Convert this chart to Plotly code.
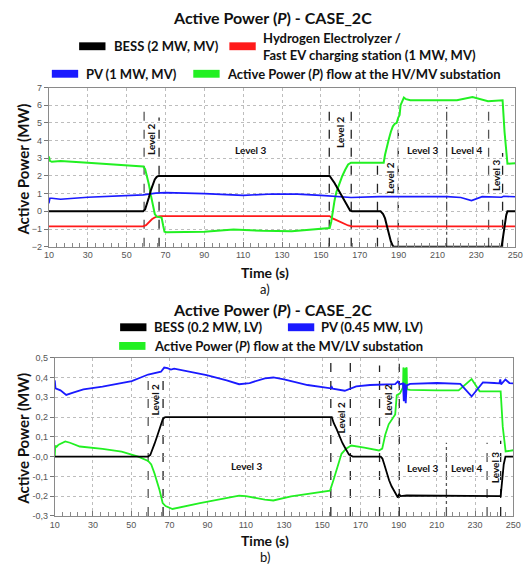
import plotly.graph_objects as go

W, H = 532, 571

# ---------------- Panel a) : MV network ----------------
t_bess_a = [10, 58.5, 59.5, 60.5, 61.5, 62.5, 63.5, 64.5, 65.5, 66.5, 67.5, 154.5, 157, 159, 161,
            163, 165, 166, 180.7, 182, 183, 184, 185, 186, 187, 187.5, 243, 243.8, 244.6, 245.4, 246, 250]
p_bess_a = [0, 0, 0.1, 0.4, 0.8, 1.2, 1.55, 1.8, 1.95, 2.0, 2.0, 2.0, 1.6, 1.2, 0.8,
            0.4, 0.05, 0, 0, -0.15, -0.4, -0.85, -1.3, -1.7, -1.95, -2.0, -2.0, -1.5, -0.8, -0.2, 0, 0]

t_h2_a = [10, 58.5, 60, 61, 62, 63, 64, 65, 66.5, 67.5, 154.5, 156, 158, 160, 162, 164, 166, 250]
p_h2_a = [-0.85, -0.85, -0.78, -0.65, -0.55, -0.45, -0.38, -0.32, -0.28, -0.27, -0.27, -0.4, -0.5,
          -0.6, -0.72, -0.8, -0.85, -0.85]

t_pv_a = [10, 10.5, 11.5, 16, 30, 45, 58.5, 65, 70, 90, 105, 110, 125, 138, 150, 160, 165.5, 180,
          190, 215, 222, 227.5, 233, 243, 244, 250]
p_pv_a = [0.45, 0.74, 0.74, 0.68, 0.8, 0.88, 0.93, 1.03, 1.06, 1.0, 0.93, 0.9, 0.98, 0.97, 0.9,
          0.83, 0.78, 0.83, 0.83, 0.83, 0.78, 0.61, 0.83, 0.8, 0.85, 0.82]

t_grid_a = [10, 10.5, 11.5, 16, 30, 45, 58.5, 59.5, 60.5, 61.5, 62.5, 63.5, 64.5, 65.5, 66.5, 68,
            68.8, 69.5, 70.5, 90, 105, 120, 135, 150, 154.5, 155.3, 156, 157, 158, 159.5, 161, 162.5,
            164, 165.5, 182.3, 183, 184, 185, 186, 187, 188, 189, 189.8, 190.2, 190.5, 191, 191.5,
            192.7, 193.8, 196, 220, 228, 236, 243.5, 244.5, 246, 250]
p_grid_a = [3.1, 2.85, 2.8, 2.85, 2.75, 2.65, 2.54, 2.4, 2.0, 1.5, 0.9, 0.3, -0.15, -0.3, -0.33,
            -0.35, -0.8, -1.15, -1.18, -1.15, -1.03, -1.1, -1.12, -1.0, -0.95, -0.6, 0.0, 0.6, 1.1,
            1.6, 2.0, 2.35, 2.65, 2.75, 2.75, 3.2, 3.7, 4.1, 4.5, 4.8, 4.95, 5.0, 5.3, 5.4, 5.45, 6.0,
            6.15, 6.43, 6.34, 6.28, 6.28, 6.46, 6.23, 6.28, 4.5, 2.69, 2.72]

# phase boundaries: x position, upper end of the line, dash style
vl_x_a = [59.0, 66.7, 154.3, 165.6, 179.1, 189.8, 214.7, 236.3, 243.5]
vl_top_a = [5.8, 5.3, 5.8, 5.7, 2.65, 4.9, 5.9, 5.9, 3.3]
vl_dash_a = ["dash", "dash", "dash", "dash", "dash", "dash", "dashdot", "dash", "dash"]

lvl_txt_a = ["Level 2", "Level 3", "Level 2", "Level 2", "Level 3", "Level 4", "Level 3"]
lvl_x_a = [62.9, 114, 159.9, 185.6, 202.3, 225.1, 240.1]
lvl_y_a = [4.07, 3.45, 4.5, 1.9, 3.45, 3.45, 2.05]
lvl_rot_a = [True, False, True, True, False, False, True]

# ---------------- Panel b) : LV network ----------------
t_bess_b = [10, 58.9, 60, 61, 62.2, 63.5, 64.8, 65.7, 66.5, 67.3, 68.1, 155, 156, 157.6, 159, 160.5,
            161.8, 163, 164, 165.2, 166, 180.6, 181.5, 182.5, 183.9, 185, 186.3, 187.4, 188.3, 189.1,
            189.6, 190.2, 191, 194.2, 243.4, 244.2, 245, 245.9, 250]
p_bess_b = [0, 0, 0.008, 0.03, 0.064, 0.1, 0.138, 0.17, 0.188, 0.197, 0.2, 0.2, 0.17, 0.138, 0.1,
            0.07, 0.047, 0.025, 0.01, 0.004, 0, 0, -0.01, -0.04, -0.086, -0.12, -0.15, -0.168, -0.19,
            -0.201, -0.207, -0.19, -0.2, -0.197, -0.2, -0.12, -0.04, 0.0, 0.0]

t_pv_b = [10, 10.4, 13, 16, 20, 25, 35, 45, 50.3, 55, 58.9, 65.6, 67.3, 69, 70.8, 72.5, 80, 89.5, 100,
          106.5, 112, 120, 124.4, 130, 142.3, 150, 154.5, 155, 155.5, 161.8, 167.8, 175, 188.2, 189.6,
          190.5, 192.3, 192.7, 193.2, 193.7, 194.2, 196, 210, 222.3, 228.2, 234.1, 240, 242.7, 243.2,
          243.6, 245.9, 248, 250]
p_pv_b = [0.385, 0.345, 0.335, 0.312, 0.325, 0.34, 0.354, 0.37, 0.382, 0.4, 0.415, 0.429, 0.45, 0.447,
          0.44, 0.445, 0.43, 0.412, 0.385, 0.366, 0.372, 0.396, 0.4, 0.39, 0.362, 0.35, 0.345, 0.352,
          0.343, 0.333, 0.355, 0.362, 0.366, 0.38, 0.365, 0.37, 0.28, 0.37, 0.27, 0.36, 0.368, 0.372,
          0.368, 0.304, 0.375, 0.372, 0.37, 0.39, 0.365, 0.39, 0.372, 0.37]

t_grid_b = [10, 10.3, 11, 12, 15.5, 18, 23.1, 35, 45, 48.6, 53.7, 58.9, 60.5, 62.2, 63.5, 64.8, 66.5,
            68, 71.6, 86, 106.5, 110, 120, 124.4, 133.7, 145, 154.1, 155.9, 158, 160.1, 162.5, 165.2,
            172, 179.7, 181.4, 183, 184.8, 188.2, 189, 190.7, 192.3, 192.5, 193, 193.4, 193.8, 194.2,
            194.4, 196, 210, 221.4, 228.2, 232.4, 243.4, 244.5, 246, 250]
p_grid_b = [0.0, 0.055, 0.05, 0.06, 0.077, 0.07, 0.051, 0.039, 0.025, 0.014, 0.0, -0.022, -0.04,
            -0.085, -0.125, -0.168, -0.235, -0.25, -0.265, -0.235, -0.198, -0.2, -0.218, -0.222, -0.201,
            -0.185, -0.172, -0.118, -0.05, 0.014, 0.04, 0.056, 0.045, 0.031, 0.04, 0.11, 0.163, 0.213,
            0.31, 0.32, 0.35, 0.45, 0.44, 0.35, 0.445, 0.45, 0.34, 0.337, 0.335, 0.335, 0.392, 0.33,
            0.33, 0.15, 0.026, 0.032]

vl_x_b = [58.9, 66.7, 154.5, 164.7, 180.0, 190.3, 215.0, 236.3, 243.4]
vl_top_b = [0.41, 0.415, 0.49, 0.49, 0.46, 0.47, 0.07, 0.07, 0.08]
vl_dash_b = ["dash", "dash", "dash", "dash", "dash", "dash", "dashdot", "dash", "dash"]

lvl_txt_b = ["Level 2", "Level 3", "Level 2", "Level 2", "Level 3", "Level 4", "Level 3"]
lvl_x_b = [62.6, 110.6, 160.1, 184.4, 203.0, 225.6, 240.1]
lvl_y_b = [0.29, -0.05, 0.195, 0.288, -0.056, -0.056, -0.052]
lvl_rot_b = [True, False, True, True, False, False, True]

x_ticks = list(range(10, 251, 20))
y_ticks_a = list(range(-2, 8))
y_ticks_b = [-0.3, -0.2, -0.1, 0.0, 0.1, 0.2, 0.3, 0.4, 0.5]
y_ticktext_b = ["-0,3", "-0,2", "-0,1", "-0,0", "0,1", "0,2", "0,3", "0,4", "0,5"]

BLACK, RED, BLUE, GREEN = "#000000", "#ff1a1a", "#1a1aff", "#22f022"
TITLE_FONT = "Lato"
TICK_FONT = dict(family="Liberation Sans, Arial", size=9, color="#555555")


def px(x):
    return x / W


def py(y):
    return 1 - y / H


fig = go.Figure()

# panel a traces
fig.add_trace(go.Scatter(x=t_h2_a, y=p_h2_a, mode="lines", line=dict(color=RED, width=1.8),
                         xaxis="x", yaxis="y", showlegend=False))
fig.add_trace(go.Scatter(x=t_grid_a, y=p_grid_a, mode="lines", line=dict(color=GREEN, width=2),
                         xaxis="x", yaxis="y", showlegend=False))
fig.add_trace(go.Scatter(x=t_pv_a, y=p_pv_a, mode="lines", line=dict(color=BLUE, width=1.6),
                         xaxis="x", yaxis="y", showlegend=False))
fig.add_trace(go.Scatter(x=t_bess_a, y=p_bess_a, mode="lines", line=dict(color=BLACK, width=2),
                         xaxis="x", yaxis="y", showlegend=False))

# panel b traces
fig.add_trace(go.Scatter(x=t_grid_b, y=p_grid_b, mode="lines", line=dict(color=GREEN, width=1.8),
                         xaxis="x2", yaxis="y2", showlegend=False))
fig.add_trace(go.Scatter(x=t_bess_b, y=p_bess_b, mode="lines", line=dict(color=BLACK, width=1.8),
                         xaxis="x2", yaxis="y2", showlegend=False))
fig.add_trace(go.Scatter(x=t_pv_b, y=p_pv_b, mode="lines", line=dict(color=BLUE, width=1.8),
                         xaxis="x2", yaxis="y2", showlegend=False))

shapes = []
annotations = []

# dashed phase boundaries
for xs, tops, dashes, xr, yr, ybot in [(vl_x_a, vl_top_a, vl_dash_a, "x", "y", -2),
                                       (vl_x_b, vl_top_b, vl_dash_b, "x2", "y2", -0.3)]:
    for i, (xv, tv, dv) in enumerate(zip(xs, tops, dashes)):
        col = "#555555" if i in (0, 6, 7) else "#222222"
        shapes.append(dict(type="line", xref=xr, yref=yr, x0=xv, x1=xv, y0=ybot, y1=tv,
                           line=dict(color=col, width=1.3, dash=dv), layer="below"))

# level labels
for txts, xs, ys, rots, xr, yr in [(lvl_txt_a, lvl_x_a, lvl_y_a, lvl_rot_a, "x", "y"),
                                   (lvl_txt_b, lvl_x_b, lvl_y_b, lvl_rot_b, "x2", "y2")]:
    for t, xv, yv, r in zip(txts, xs, ys, rots):
        annotations.append(dict(text="<b>%s</b>" % t, x=xv, y=yv, xref=xr, yref=yr, showarrow=False,
                                textangle=-90 if r else 0,
                                font=dict(family=TITLE_FONT, size=10, color="#111111")))

# titles, axis titles and panel tags
for ty in (13, 310):
    annotations.append(dict(text="<b>Active Power (<i>P</i>) - CASE_2C</b>", x=0.515, y=py(ty),
                            xref="paper", yref="paper", showarrow=False, xanchor="center",
                            yanchor="middle", font=dict(family=TITLE_FONT, size=16, color="#111111")))
for ty in (272, 545):
    annotations.append(dict(text="<b>Time (s)</b>", x=0.5, y=py(ty), xref="paper", yref="paper",
                            showarrow=False, yanchor="middle", borderpad=0,
                            font=dict(family=TITLE_FONT, size=14, color="#111111")))
for txt, ty in (("a)", 289), ("b)", 562)):
    annotations.append(dict(text=txt, x=0.5, y=py(ty), xref="paper", yref="paper", showarrow=False,
                            yanchor="middle", borderpad=0,
                            font=dict(family=TITLE_FONT, size=13, color="#111111")))
for cy, cx in ((168, 19), (442, 19)):
    annotations.append(dict(text="<b>Active Power (MW)</b>", x=px(cx), y=py(cy), xref="paper",
                            yref="paper", showarrow=False, textangle=-90, xanchor="center",
                            yanchor="middle", font=dict(family=TITLE_FONT, size=15, color="#111111")))

# legend swatches and labels
legend_items = [
    (76, 42, BLACK, 110, "BESS (2 MW, MV)"),
    (230, 42, RED, 262, "Hydrogen Electrolyzer /<br>Fast EV charging station (1 MW, MV)"),
    (48, 70, BLUE, 81, "PV (1 MW, MV)"),
    (193, 70, GREEN, 226, "Active Power (<i>P</i>) flow at the HV/MV substation"),
    (118, 328, BLACK, 151, "BESS (0.2 MW, LV)"),
    (290, 328, BLUE, 322, "PV (0.45 MW, LV)"),
    (117, 347, GREEN, 151, "Active Power (<i>P</i>) flow at the MV/LV substation"),
]
for sx, sy, col, tx, label in legend_items:
    shapes.append(dict(type="rect", xref="paper", yref="paper", x0=px(sx), x1=px(sx + 27),
                       y0=py(sy + 4), y1=py(sy - 4), fillcolor=col, line=dict(width=0)))
    annotations.append(dict(text="<b>%s</b>" % label, x=px(tx), y=py(sy), xref="paper", yref="paper",
                            showarrow=False, xanchor="left", yanchor="middle", align="left",
                            font=dict(family=TITLE_FONT, size=13, color="#111111")))

axis_common = dict(showline=True, linecolor="#8a8a8a", linewidth=1, mirror=True,
                   showgrid=True, gridcolor="#bdbdbd", griddash="dot", gridwidth=1,
                   zeroline=False, tickfont=TICK_FONT)

fig.update_layout(
    width=W, height=H,
    margin=dict(l=0, r=0, t=0, b=0),
    paper_bgcolor="white", plot_bgcolor="white",
    showlegend=False,
    xaxis=dict(domain=[px(45), px(523)], range=[10, 250], anchor="y", tickmode="array",
               tickvals=x_ticks, ticks="inside", ticklen=5, tickcolor="#777777",
               minor=dict(tick0=10, dtick=4, ticks="inside", ticklen=4, tickcolor="#888888",
                          showgrid=False), **axis_common),
    yaxis=dict(domain=[py(246), py(84)], range=[-2, 7], anchor="x", tickmode="array",
               tickvals=y_ticks_a, ticks="outside", ticklen=4, tickcolor="#777777", **axis_common),
    xaxis2=dict(domain=[px(51), px(521)], range=[10, 250], anchor="y2", tickmode="array",
                tickvals=x_ticks, ticks="inside", ticklen=5, tickcolor="#777777",
                minor=dict(tick0=10, dtick=4, ticks="inside", ticklen=4, tickcolor="#888888",
                           showgrid=False), **axis_common),
    yaxis2=dict(domain=[py(520), py(359)], range=[-0.3, 0.5], anchor="x2", tickmode="array",
                tickvals=y_ticks_b, ticktext=y_ticktext_b, ticks="outside", ticklen=4,
                tickcolor="#777777", **axis_common),
    shapes=shapes,
    annotations=annotations,
)

fig.write_html("out.html")
